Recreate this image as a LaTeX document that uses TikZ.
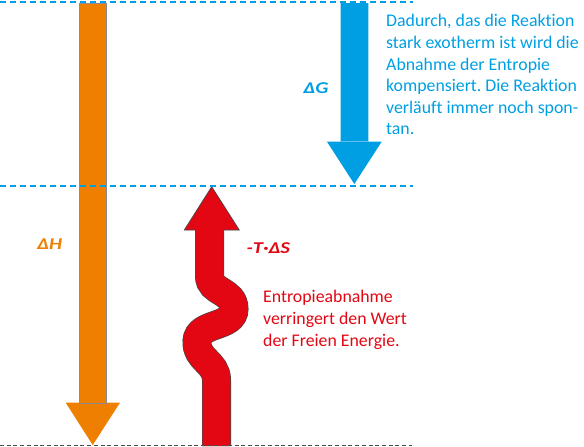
\documentclass[tikz,border=0pt]{standalone}
\usepackage{graphicx}
\usepackage{fontspec}
\setmainfont{Carlito}[Ligatures=NoCommon]
\definecolor{orangeA}{RGB}{239,127,0}
\definecolor{blueA}{RGB}{0,159,227}
\definecolor{redA}{RGB}{227,6,19}
\definecolor{outlineA}{RGB}{70,70,70}
\newcommand{\widelabel}[1]{\scalebox{1.25}[1]{#1}}
\begin{document}
\frenchspacing
\begin{tikzpicture}[x=1pt,y=-1pt,
  bodytext/.style={inner sep=0pt, anchor=north west, align=left,
    font=\fontsize{17.8}{21.6}\selectfont},
  sym/.style={inner sep=0pt, font=\fontsize{16.5}{18}\selectfont\bfseries\itshape},
  bluedash/.style={blueA, line width=2pt, dash pattern=on 6pt off 4pt},
  graydash/.style={black!70, line width=1.5pt, dash pattern=on 4pt off 2.7pt}]
\useasboundingbox (0,0) rectangle (584,447);
% orange arrow (Delta H)
\fill[orangeA] (65.7,402.7) -- (120,402.7) -- (92.7,445) -- cycle;
\filldraw[fill=orangeA, draw=black!45, line width=0.5pt] (79.3,3) rectangle (106.7,403);
% blue arrow (Delta G)
\fill[blueA] (340.7,3) rectangle (368.3,142)
  (327,141.7) -- (381.7,141.7) -- (354.3,184) -- cycle;
% red wavy arrow (-T Delta S)
\def\redpath{(216.5,446) -- (216.5,380) .. controls (216.5,362) and (196,360) .. (197,341)
  .. controls (198,322) and (234,328) .. (234,309)
  .. controls (234,290) and (209.5,293) .. (209.5,276) -- (209.5,229)}
\draw[outlineA, line width=29pt] \redpath;
\draw[redA, line width=27.6pt] \redpath;
\fill[redA] (184.3,230) -- (211.7,186.7) -- (239.3,230) -- cycle;
\draw[outlineA, line width=0.7pt] (195.7,230) -- (184.3,230) -- (211.7,186.7) -- (239.3,230) -- (223.3,230);
% dashed levels
\coordinate (t0) at (0,1.6); \coordinate (t1) at (413,1.6);
\coordinate (m0) at (0,185.7); \coordinate (m1) at (413,185.7);
\coordinate (b0) at (0,445.5); \coordinate (b1) at (412,445.5);
\draw[bluedash] (t0) -- (t1);
\draw[bluedash] (m0) -- (m1);
\draw[graydash] (b0) -- (b1);
% labels
\node[sym, text=orangeA] (dh) at (49.7,243.7) {\widelabel{ΔH}};
\node[sym, text=blueA] (dg) at (316,88.3) {\widelabel{ΔG}};
\node[sym, text=redA] (ts) at (268.3,248.3) {\widelabel{-T·ΔS}};
\node[bodytext, text=blueA] (gtext) at (386,14.3) {Dadurch, das die Reaktion\\stark exotherm ist wird die\\Abnahme der Entropie\\kompensiert. Die Reaktion\\verläuft immer noch spon-\\tan.};
\node[bodytext, text=redA] (stext) at (263,290.3) {Entropieabnahme\\verringert den Wert\\der Freien Energie.};
\end{tikzpicture}
\end{document}
